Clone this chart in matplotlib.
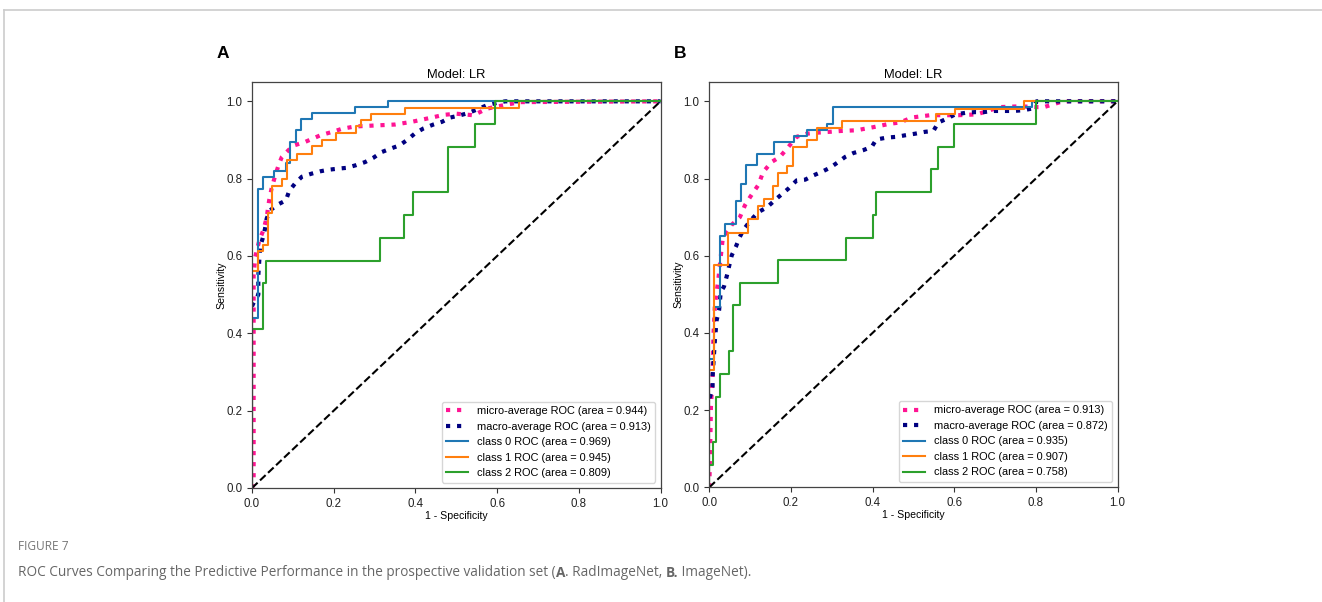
import matplotlib
matplotlib.use("Agg")
import matplotlib.pyplot as plt
from matplotlib.lines import Line2D

plt.rcParams['font.family'] = ['Liberation Sans', 'DejaVu Sans']

# ---------------- data: panel A (RadImageNet) ----------------
a_micro_fpr = [0, 0.004, 0.004, 0.008, 0.018, 0.028, 0.036, 0.042, 0.048, 0.056, 0.065, 0.073, 0.085, 0.10,
               0.13, 0.167, 0.203, 0.22, 0.252, 0.31, 0.35, 0.391, 0.44, 0.469, 0.50, 0.542, 0.575, 0.616, 0.657, 1.0]
a_micro_tpr = [0, 0.01, 0.55, 0.598, 0.641, 0.667, 0.70, 0.744, 0.775, 0.805, 0.835, 0.856, 0.869, 0.885,
               0.895, 0.912, 0.923, 0.929, 0.935, 0.938, 0.94, 0.947, 0.958, 0.965, 0.968, 0.964, 0.981, 0.990, 0.998, 1.0]

a_macro_fpr = [0, 0.003, 0.0155, 0.0155, 0.02, 0.026, 0.032, 0.036, 0.044, 0.065, 0.083, 0.091, 0.105, 0.122,
               0.146, 0.167, 0.187, 0.211, 0.232, 0.255, 0.277, 0.297, 0.318, 0.34, 0.361, 0.381, 0.40, 0.42,
               0.444, 0.465, 0.485, 0.51, 0.53, 0.551, 0.575, 0.60, 0.62, 1.0]
a_macro_tpr = [0.47, 0.477, 0.50, 0.55, 0.624, 0.645, 0.671, 0.697, 0.718, 0.734, 0.744, 0.768, 0.787, 0.805,
               0.813, 0.819, 0.823, 0.826, 0.828, 0.835, 0.843, 0.854, 0.869, 0.878, 0.886, 0.901, 0.918, 0.93,
               0.94, 0.947, 0.958, 0.964, 0.97, 0.979, 0.99, 0.996, 1.0, 1.0]

a_c0_fpr = [0, 0, 0.015, 0.015, 0.028, 0.028, 0.054, 0.054, 0.083, 0.083, 0.093, 0.093, 0.107, 0.107,
            0.119, 0.119, 0.146, 0.146, 0.252, 0.252, 0.332, 0.332, 1.0]
a_c0_tpr = [0, 0.44, 0.44, 0.774, 0.774, 0.805, 0.805, 0.82, 0.82, 0.84, 0.84, 0.895, 0.895, 0.927,
            0.927, 0.955, 0.955, 0.97, 0.97, 0.985, 0.985, 1.0, 1.0]

a_c1_fpr = [0, 0, 0.0155, 0.0155, 0.028, 0.028, 0.038, 0.038, 0.048, 0.048, 0.073, 0.073, 0.085, 0.085,
            0.109, 0.109, 0.146, 0.146, 0.171, 0.171, 0.206, 0.206, 0.255, 0.255, 0.266, 0.266, 0.291, 0.291,
            0.375, 0.375, 0.653, 0.653, 1.0]
a_c1_tpr = [0, 0.562, 0.562, 0.613, 0.613, 0.628, 0.628, 0.712, 0.712, 0.781, 0.781, 0.798, 0.798, 0.849,
            0.849, 0.865, 0.865, 0.884, 0.884, 0.901, 0.901, 0.917, 0.917, 0.935, 0.935, 0.951, 0.951, 0.968,
            0.968, 0.984, 0.984, 1.0, 1.0]

a_c2_fpr = [0, 0, 0.026, 0.026, 0.034, 0.034, 0.314, 0.314, 0.371, 0.371, 0.395, 0.395, 0.481, 0.481,
            0.547, 0.547, 0.596, 0.596, 1.0]
a_c2_tpr = [0, 0.412, 0.412, 0.529, 0.529, 0.588, 0.588, 0.647, 0.647, 0.706, 0.706, 0.765, 0.765, 0.882,
            0.882, 0.941, 0.941, 1.0, 1.0]

a_auc = [0.944, 0.913, 0.969, 0.945, 0.809]

# ---------------- data: panel B (ImageNet) ----------------
b_micro_fpr = [0, 0.002, 0.004, 0.008, 0.010, 0.014, 0.022, 0.028, 0.033, 0.047, 0.055, 0.075, 0.0875, 0.10,
               0.12, 0.132, 0.153, 0.173, 0.194, 0.214, 0.239, 0.255, 0.296, 0.32, 0.361, 0.402, 0.443, 0.467,
               0.496, 0.541, 0.61, 0.655, 0.712, 0.761, 0.802, 0.82, 0.86, 0.87, 1.0]
b_micro_tpr = [0, 0.089, 0.209, 0.286, 0.39, 0.476, 0.537, 0.597, 0.645, 0.665, 0.68, 0.70, 0.731, 0.752,
               0.783, 0.817, 0.843, 0.856, 0.882, 0.908, 0.916, 0.918, 0.921, 0.923, 0.925, 0.933, 0.942, 0.945,
               0.958, 0.964, 0.964, 0.966, 0.985, 0.987, 0.985, 0.985, 0.998, 1.0, 1.0]

b_macro_fpr = [0, 0.002, 0.008, 0.008, 0.014, 0.018, 0.024, 0.028, 0.036, 0.044, 0.049, 0.055, 0.065, 0.074,
               0.083, 0.10, 0.12, 0.141, 0.165, 0.194, 0.214, 0.235, 0.255, 0.275, 0.296, 0.315, 0.333, 0.353,
               0.376, 0.398, 0.409, 0.435, 0.459, 0.48, 0.504, 0.529, 0.549, 0.561, 0.582, 0.602, 0.627, 0.651,
               0.672, 0.696, 0.721, 0.745, 0.770, 0.79, 0.802, 1.0]
b_macro_tpr = [0.232, 0.235, 0.26, 0.286, 0.386, 0.433, 0.459, 0.506, 0.52, 0.552, 0.575, 0.601, 0.623, 0.647,
               0.666, 0.69, 0.713, 0.725, 0.748, 0.774, 0.795, 0.797, 0.808, 0.817, 0.828, 0.842, 0.856, 0.866,
               0.873, 0.882, 0.901, 0.906, 0.908, 0.912, 0.916, 0.921, 0.923, 0.945, 0.955, 0.966, 0.97, 0.972,
               0.972, 0.975, 0.975, 0.975, 0.977, 0.981, 1.0, 1.0]

b_c0_fpr = [0, 0, 0.012, 0.012, 0.026, 0.026, 0.038, 0.038, 0.065, 0.065, 0.078, 0.078, 0.090, 0.090,
            0.116, 0.116, 0.159, 0.159, 0.208, 0.208, 0.239, 0.239, 0.289, 0.289, 0.302, 0.302, 0.79, 0.79, 1.0]
b_c0_tpr = [0, 0.333, 0.333, 0.468, 0.468, 0.651, 0.651, 0.682, 0.682, 0.742, 0.742, 0.787, 0.787, 0.834,
            0.834, 0.863, 0.863, 0.894, 0.894, 0.909, 0.909, 0.925, 0.925, 0.940, 0.940, 0.985, 0.985, 1.0, 1.0]

b_c1_fpr = [0, 0, 0.012, 0.012, 0.047, 0.047, 0.096, 0.096, 0.120, 0.120, 0.134, 0.134, 0.157, 0.157,
            0.169, 0.169, 0.191, 0.191, 0.204, 0.204, 0.239, 0.239, 0.265, 0.265, 0.324, 0.324, 0.556, 0.556,
            0.602, 0.602, 0.770, 0.770, 1.0]
b_c1_tpr = [0, 0.304, 0.304, 0.575, 0.575, 0.660, 0.660, 0.695, 0.695, 0.729, 0.729, 0.746, 0.746, 0.780,
            0.780, 0.813, 0.813, 0.832, 0.832, 0.882, 0.882, 0.899, 0.899, 0.932, 0.932, 0.949, 0.949, 0.966,
            0.966, 0.981, 0.981, 1.0, 1.0]

b_c2_fpr = [0, 0, 0.008, 0.008, 0.016, 0.016, 0.025, 0.025, 0.049, 0.049, 0.057, 0.057, 0.074, 0.074,
            0.168, 0.168, 0.335, 0.335, 0.400, 0.400, 0.409, 0.409, 0.543, 0.543, 0.561, 0.561, 0.600, 0.600,
            0.801, 0.801, 1.0]
b_c2_tpr = [0, 0.059, 0.059, 0.118, 0.118, 0.235, 0.235, 0.294, 0.294, 0.353, 0.353, 0.471, 0.471, 0.529,
            0.529, 0.588, 0.588, 0.647, 0.647, 0.706, 0.706, 0.765, 0.765, 0.824, 0.824, 0.882, 0.882, 0.941,
            0.941, 1.0, 1.0]

b_auc = [0.913, 0.872, 0.935, 0.907, 0.758]

panel_letters = ['A', 'B']
title_text = 'Model: LR'
xlabel_text = '1 - Specificity'
ylabel_text = 'Sensitivity'
caption_head = 'FIGURE 7'

# ---------------- figure ----------------
W, H = 1322, 602
fig = plt.figure(figsize=(W / 100, H / 100), dpi=100)


def px_axes(left, top, right, bottom):
    return fig.add_axes([left / W, 1 - bottom / H, (right - left) / W, (bottom - top) / H])


def draw(ax, micro, macro, classes, auc):
    ax.plot(micro[0], micro[1], color='deeppink', linestyle=':', linewidth=3,
            label='micro-average ROC (area = {:.3f})'.format(auc[0]))
    ax.plot(macro[0], macro[1], color='navy', linestyle=':', linewidth=3,
            label='macro-average ROC (area = {:.3f})'.format(auc[1]))
    cols = ['#1f77b4', '#ff7f0e', '#2ca02c']
    for i, (f, t) in enumerate(classes):
        ax.plot(f, t, color=cols[i], linewidth=1.5,
                label='class {} ROC (area = {:.3f})'.format(i, auc[2 + i]))
    ax.plot([0, 1], [0, 1], 'k--', linewidth=1.5)
    ax.set_xlim(0.0, 1.0)
    ax.set_ylim(0.0, 1.05)
    ax.set_xticks([0, 0.2, 0.4, 0.6, 0.8, 1.0])
    ax.set_yticks([0, 0.2, 0.4, 0.6, 0.8, 1.0])
    ax.tick_params(labelsize=8.3, length=3.5, width=0.8, color='#333333', labelcolor='#222222')
    for s in ax.spines.values():
        s.set_color('#444444')
        s.set_linewidth(0.9)
    ax.set_xlabel(xlabel_text, fontsize=7.6, labelpad=1)
    ax.set_ylabel(ylabel_text, fontsize=7.6, labelpad=0)
    ax.set_title(title_text, fontsize=9.3, pad=3)
    ax.legend(loc='lower right', fontsize=7.9, framealpha=0.8)


axA = px_axes(252, 82, 660.5, 488)
draw(axA, (a_micro_fpr, a_micro_tpr), (a_macro_fpr, a_macro_tpr),
     [(a_c0_fpr, a_c0_tpr), (a_c1_fpr, a_c1_tpr), (a_c2_fpr, a_c2_tpr)], a_auc)
axB = px_axes(709.3, 82, 1117.5, 487.3)
draw(axB, (b_micro_fpr, b_micro_tpr), (b_macro_fpr, b_macro_tpr),
     [(b_c0_fpr, b_c0_tpr), (b_c1_fpr, b_c1_tpr), (b_c2_fpr, b_c2_tpr)], b_auc)

# panel letters
fig.text(217 / W, 1 - 53 / H, panel_letters[0], fontsize=12.5, fontweight='bold', va='center', ha='left')
fig.text(674 / W, 1 - 53 / H, panel_letters[1], fontsize=12.5, fontweight='bold', va='center', ha='left')

# frame lines
fig.add_artist(Line2D([4 / W, 1.0], [1 - 9.5 / H, 1 - 9.5 / H], color='#cccccc', linewidth=1.2))
fig.add_artist(Line2D([4 / W, 4 / W], [1 - 9.5 / H, 0], color='#cccccc', linewidth=1.2))

# caption
cap_font = ['Open Sans', 'DejaVu Sans']
cap_size = 9.85
fig.text(18 / W, 1 - 546 / H, caption_head, fontsize=8.6, color='#777777', family=cap_font, va='center')
cap_y = 1 - 573 / H
t1 = fig.text(18 / W, cap_y, 'ROC Curves Comparing the Predictive Performance in the prospective validation set (',
              fontsize=cap_size, color='#666666', family=cap_font, va='center')
fig.canvas.draw()
r = fig.canvas.get_renderer()


def after(t):
    bb = t.get_window_extent(r)
    return bb.x1 / W


parts = [('A', 'bold'), ('. RadImageNet, ', 'normal'), ('B.', 'bold'), (' ImageNet).', 'normal')]
prev = t1
for txt, wt in parts:
    prev = fig.text(after(prev), cap_y, txt, fontsize=cap_size, color='#666666', family=cap_font,
                    fontweight=wt, va='center')
    fig.canvas.draw()

fig.savefig('out.png', dpi=100)
